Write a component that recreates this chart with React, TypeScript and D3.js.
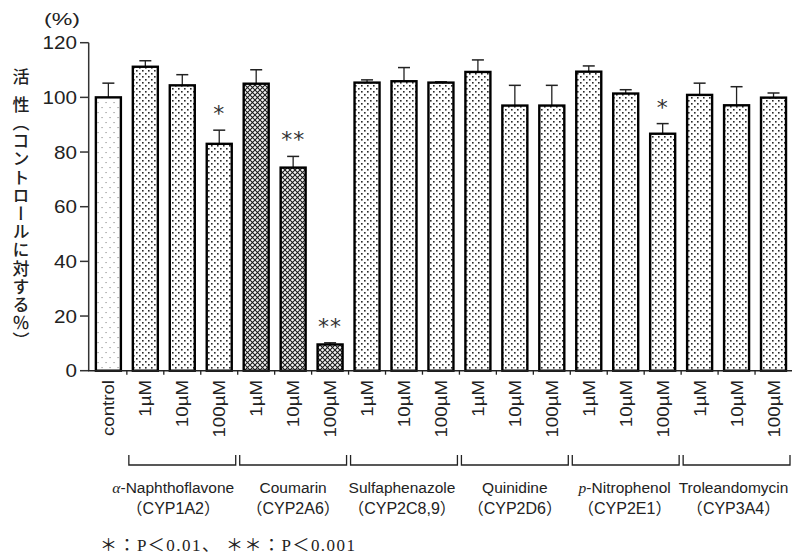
import React from "react";
import * as d3 from "d3";

// ---- data ----
const categories = [
  "control",
  "1µM", "10µM", "100µM",
  "1µM", "10µM", "100µM",
  "1µM", "10µM", "100µM",
  "1µM", "10µM", "100µM",
  "1µM", "10µM", "100µM",
  "1µM", "10µM", "100µM",
];
const barKinds = [
  "control",
  "dot", "dot", "dot",
  "hatch", "hatch", "hatch",
  "dot", "dot", "dot",
  "dot", "dot", "dot",
  "dot", "dot", "dot",
  "dot", "dot", "dot",
];
const values = [100, 111.2, 104.4, 83, 105, 74.3, 9.6, 105.4, 105.9, 105.4, 109.3, 97, 97, 109.4, 101.4, 86.7, 100.9, 97.1, 99.9];
const errors = [5.2, 2.2, 3.9, 5, 5.1, 4.1, 0.6, 1, 5, 0.3, 4.4, 7.4, 7.4, 2.1, 1.4, 3.7, 4.3, 6.8, 1.7];
const significance = ["", "", "", "*", "", "**", "**", "", "", "", "", "", "", "", "", "*", "", "", ""];
const groupNames = ["α-Naphthoflavone", "Coumarin", "Sulfaphenazole", "Quinidine", "p-Nitrophenol", "Troleandomycin"];
const groupEnzymes = ["CYP1A2", "CYP2A6", "CYP2C8,9", "CYP2D6", "CYP2E1", "CYP3A4"];
const yTicks = [0, 20, 40, 60, 80, 100, 120];
const yTitleMain = "活性";
const yTitleSub = "（コントロールに対する％）";
const footnote = "＊：P＜0.01、 ＊＊：P＜0.001";

// ---- layout ----
const W = 798, H = 557;
const x = d3.scaleBand<number>().domain(d3.range(categories.length)).range([89.9, 792]).paddingInner(0.3234).paddingOuter(0.1617);
const y = d3.scaleLinear().domain([0, 120]).range([370.7, 42.7]);
const labelDx = [-9, 0, -2, 0, -1, -3];

const sans = "'Liberation Sans', Arial, sans-serif";
const jp = "'Noto Sans CJK JP', sans-serif";

export default function App() {
  const step = x.step();
  const bw = x.bandwidth();
  const bandStart = (i: number) => (x(i) as number) - (step - bw) / 2;
  const bandEnd = (i: number) => (x(i) as number) + bw + (step - bw) / 2;
  const fill = (k: string) => (k === "control" ? "url(#pCtrl)" : k === "hatch" ? "url(#pHatch)" : "url(#pDot)");

  return (
    <svg width={W} height={H} style={{ position: "absolute", left: 0, top: 0, background: "#fff" }}>
      <defs>
        <pattern id="pCtrl" width="8" height="10" patternUnits="userSpaceOnUse">
          <rect width="8" height="10" fill="#fff" />
          <rect x="1.5" y="2" width="1.1" height="1.1" fill="#8a8a8a" />
          <rect x="5.5" y="7" width="1.1" height="1.1" fill="#8a8a8a" />
        </pattern>
        <pattern id="pDot" width="6" height="6" patternUnits="userSpaceOnUse">
          <rect width="6" height="6" fill="#fff" />
          <rect x="1" y="1" width="1.6" height="1.6" fill="#2a2a2a" />
          <rect x="4" y="4" width="1.6" height="1.6" fill="#2a2a2a" />
        </pattern>
        <pattern id="pHatch" width="5" height="5" patternUnits="userSpaceOnUse">
          <rect width="5" height="5" fill="#f2f2f2" />
          <path d="M0,0 L5,5 M5,0 L0,5" stroke="#1a1a1a" strokeWidth="1.05" />
        </pattern>
      </defs>

      {/* (%) */}
      <text x={44} y={25} fontFamily={sans} fontSize={16} textLength={36} lengthAdjust="spacingAndGlyphs" fill="#222">(%)</text>

      {/* y-axis title (vertical) */}
      <text x={21} y={68} fontFamily={jp} fontSize={17} fontWeight={500} fill="#222" letterSpacing={11}
        style={{ writingMode: "vertical-rl" }}>{yTitleMain}</text>
      <text x={21} y={114} fontFamily={jp} fontSize={17} fontWeight={500} fill="#222" letterSpacing={1.2}
        style={{ writingMode: "vertical-rl" }}>{yTitleSub}</text>

      {/* y axis */}
      <line x1={88.7} x2={88.7} y1={y(120)} y2={y(0)} stroke="#333" strokeWidth={1.5} />
      {yTicks.map((t) => (
        <g key={t}>
          <line x1={80} x2={88.7} y1={y(t)} y2={y(t)} stroke="#333" strokeWidth={1.5} />
          <text transform={`translate(77,${y(t) + 6.5}) scale(1.18,1)`} fontFamily={sans} fontSize={17.5} textAnchor="end" fill="#222">{t}</text>
        </g>
      ))}

      {/* bars */}
      {values.map((v, i) => {
        const bx = x(i) as number;
        const cx = bx + bw / 2;
        const top = y(v + errors[i]);
        return (
          <g key={i}>
            <line x1={cx} x2={cx} y1={y(v)} y2={top} stroke="#222" strokeWidth={1.3} />
            <line x1={cx - 6} x2={cx + 6} y1={top} y2={top} stroke="#222" strokeWidth={1.5} />
            <rect x={bx} y={y(v)} width={bw} height={y(0) - y(v)} fill={fill(barKinds[i])} stroke="#000" strokeWidth={2.4} />
            {significance[i] && (
              <text x={cx} y={top - 9} fontFamily="'DejaVu Sans', sans-serif" fontSize={22} textAnchor="middle" fill="#333"
                letterSpacing={1}>{significance[i]}</text>
            )}
          </g>
        );
      })}

      {/* x axis */}
      <line x1={88} x2={792} y1={y(0)} y2={y(0)} stroke="#222" strokeWidth={1.5} />
      {categories.map((_, i) => i > 0 ? (
        <line key={i} x1={bandStart(i)} x2={bandStart(i)} y1={y(0)} y2={y(0) + 4} stroke="#222" strokeWidth={1.3} />
      ) : null)}

      {/* x tick labels */}
      {categories.map((c, i) => {
        const cx = (x(i) as number) + bw / 2;
        return (
          <text key={i} transform={`translate(${cx + 6},380) rotate(-90) scale(1.1,1)`} fontFamily={sans} fontSize={17} textAnchor="end" fill="#222">{c}</text>
        );
      })}

      {/* group brackets & labels */}
      {groupNames.map((g, gi) => {
        const i0 = 1 + gi * 3, i1 = i0 + 2;
        const x0 = bandStart(i0) + 2, x1 = bandEnd(i1) - 2;
        const cx = (x0 + x1) / 2 + labelDx[gi];
        const italicHead = g.startsWith("α") ? "α" : g.startsWith("p-") ? "p" : "";
        const rest = italicHead ? g.slice(1) : g;
        return (
          <g key={gi}>
            <path d={`M${x0},455 V465 H${x1} V455`} fill="none" stroke="#222" strokeWidth={1.3} />
            <text x={cx} y={493} fontFamily={sans} fontSize={15.5} textAnchor="middle" fill="#222">
              {italicHead && <tspan fontStyle="italic" fontFamily="'Liberation Serif', serif">{italicHead}</tspan>}
              {rest}
            </text>
            <text x={cx} y={514} fontFamily={sans} fontSize={16} textAnchor="middle" fill="#222">
              <tspan fontFamily={jp}>（</tspan>{groupEnzymes[gi]}<tspan fontFamily={jp}>）</tspan>
            </text>
          </g>
        );
      })}

      {/* footnote */}
      <text x={100} y={551} fontFamily={`'Liberation Serif', ${jp}`} fontSize={17} textLength={255} lengthAdjust="spacing" fill="#222">{footnote}</text>
    </svg>
  );
}
